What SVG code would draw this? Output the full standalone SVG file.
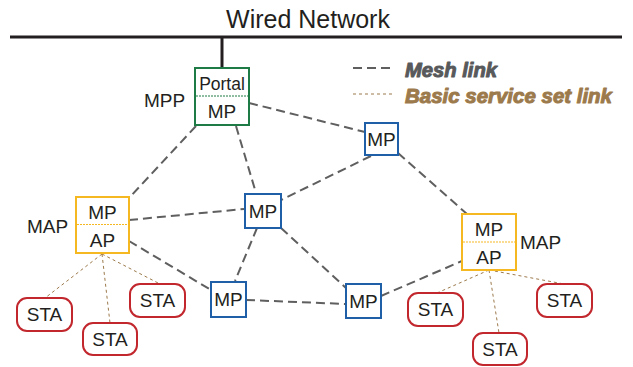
<svg xmlns="http://www.w3.org/2000/svg" width="633" height="367" viewBox="0 0 633 367">
<style>
text{font-family:"Liberation Sans",Arial,sans-serif;fill:#231f20}
.mesh{stroke:#5f5f5f;stroke-width:2;stroke-dasharray:9 5;fill:none}
.bss{stroke:#9c7a4c;stroke-width:1;stroke-dasharray:3 3;fill:none}
.box{fill:#fff;stroke-width:2}
.mp{stroke:#1f5fa8}
.por{stroke:#1e7b45}
.map{stroke:#f5b820}
.sta{fill:#fff;stroke:#c1272d;stroke-width:2}
.t19{font-size:19px;text-anchor:middle}
.lbl{font-size:19px}
.leg{font-size:20px;font-weight:bold;font-style:italic;stroke-width:1;stroke-linejoin:round}
</style>
<g id="wired">
<line x1="10" y1="37" x2="622" y2="37" stroke="#231f20" stroke-width="3"/>
<line x1="222" y1="37" x2="222" y2="68" stroke="#231f20" stroke-width="3"/>
<text x="308" y="28" font-size="25" text-anchor="middle">Wired Network</text>
</g>
<g id="connectors">
<line class="mesh" x1="196" y1="126" x2="129" y2="198"/>
<line class="mesh" x1="236" y1="126" x2="256" y2="193"/>
<line class="mesh" x1="249" y1="103" x2="365" y2="132"/>
<line class="mesh" x1="371" y1="156" x2="281" y2="200"/>
<line class="mesh" x1="398" y1="153" x2="467" y2="214"/>
<line class="mesh" x1="129" y1="220" x2="244" y2="209"/>
<line class="mesh" x1="129" y1="241" x2="211" y2="290"/>
<line class="mesh" x1="257" y1="228" x2="235" y2="281"/>
<line class="mesh" x1="281" y1="228" x2="346" y2="288"/>
<line class="mesh" x1="246" y1="300" x2="346" y2="304"/>
<line class="mesh" x1="381" y1="296" x2="462" y2="261"/>
<line class="bss" x1="102" y1="254" x2="45" y2="298"/>
<line class="bss" x1="102" y1="254" x2="110" y2="323"/>
<line class="bss" x1="102" y1="254" x2="160" y2="284"/>
<line class="bss" x1="489" y1="270" x2="437" y2="293"/>
<line class="bss" x1="489" y1="270" x2="499" y2="333"/>
<line class="bss" x1="489" y1="270" x2="564" y2="284"/>
</g>
<g id="legend">
<line class="mesh" x1="353" y1="68" x2="393" y2="68"/>
<text class="leg" x="405" y="77" textLength="92" lengthAdjust="spacingAndGlyphs" stroke="#58595b" style="fill:#58595b">Mesh link</text>
<line class="bss" x1="353" y1="94" x2="393" y2="94"/>
<text class="leg" x="405" y="103" textLength="207" lengthAdjust="spacingAndGlyphs" stroke="#9c7a4c" style="fill:#9c7a4c">Basic service set link</text>
</g>
<g id="portal">
<rect class="box por" x="195" y="68" width="54" height="57"/>
<line x1="196" y1="96" x2="248" y2="96" stroke="#1e7b45" stroke-width="1" stroke-dasharray="2 1"/>
<text x="222" y="90" font-size="17.5" text-anchor="middle">Portal</text>
<text class="t19" x="222" y="118">MP</text>
<text class="lbl" x="144" y="107">MPP</text>
</g>
<g id="mp-top">
<rect class="box mp" x="365" y="123" width="33" height="32"/>
<text class="t19" x="381.5" y="146">MP</text>
</g>
<g id="mp-center">
<rect class="box mp" x="245" y="194" width="36" height="34"/>
<text class="t19" x="263" y="218">MP</text>
</g>
<g id="mp-lowleft">
<rect class="box mp" x="211" y="282" width="35" height="35"/>
<text class="t19" x="228.5" y="306">MP</text>
</g>
<g id="mp-lowright">
<rect class="box mp" x="346" y="284" width="35" height="34"/>
<text class="t19" x="363.5" y="308">MP</text>
</g>
<g id="map-left">
<rect class="box map" x="76" y="197" width="53" height="56"/>
<line x1="77" y1="224.5" x2="128" y2="224.5" stroke="#f5b820" stroke-width="1" stroke-dasharray="2 1"/>
<text class="t19" x="102.5" y="219">MP</text>
<text class="t19" x="102.5" y="247">AP</text>
<text class="lbl" x="27" y="233">MAP</text>
</g>
<g id="map-right">
<rect class="box map" x="462" y="214" width="54" height="56"/>
<line x1="463" y1="242" x2="515" y2="242" stroke="#f5b820" stroke-width="1" stroke-dasharray="2 1"/>
<text class="t19" x="489" y="236">MP</text>
<text class="t19" x="489" y="264">AP</text>
<text class="lbl" x="520" y="249">MAP</text>
</g>
<g id="sta-l1"><rect class="sta" x="17" y="298" width="55" height="33" rx="10"/><text class="t19" x="44.5" y="321">STA</text></g>
<g id="sta-l2"><rect class="sta" x="83" y="323" width="54" height="32" rx="10"/><text class="t19" x="110" y="346">STA</text></g>
<g id="sta-l3"><rect class="sta" x="130" y="284" width="55" height="33" rx="10"/><text class="t19" x="157.5" y="307">STA</text></g>
<g id="sta-r1"><rect class="sta" x="408" y="293" width="55" height="33" rx="10"/><text class="t19" x="435.5" y="316">STA</text></g>
<g id="sta-r2"><rect class="sta" x="473" y="333" width="54" height="32" rx="10"/><text class="t19" x="500" y="356">STA</text></g>
<g id="sta-r3"><rect class="sta" x="537" y="284" width="55" height="33" rx="10"/><text class="t19" x="564.5" y="307">STA</text></g>
</svg>
